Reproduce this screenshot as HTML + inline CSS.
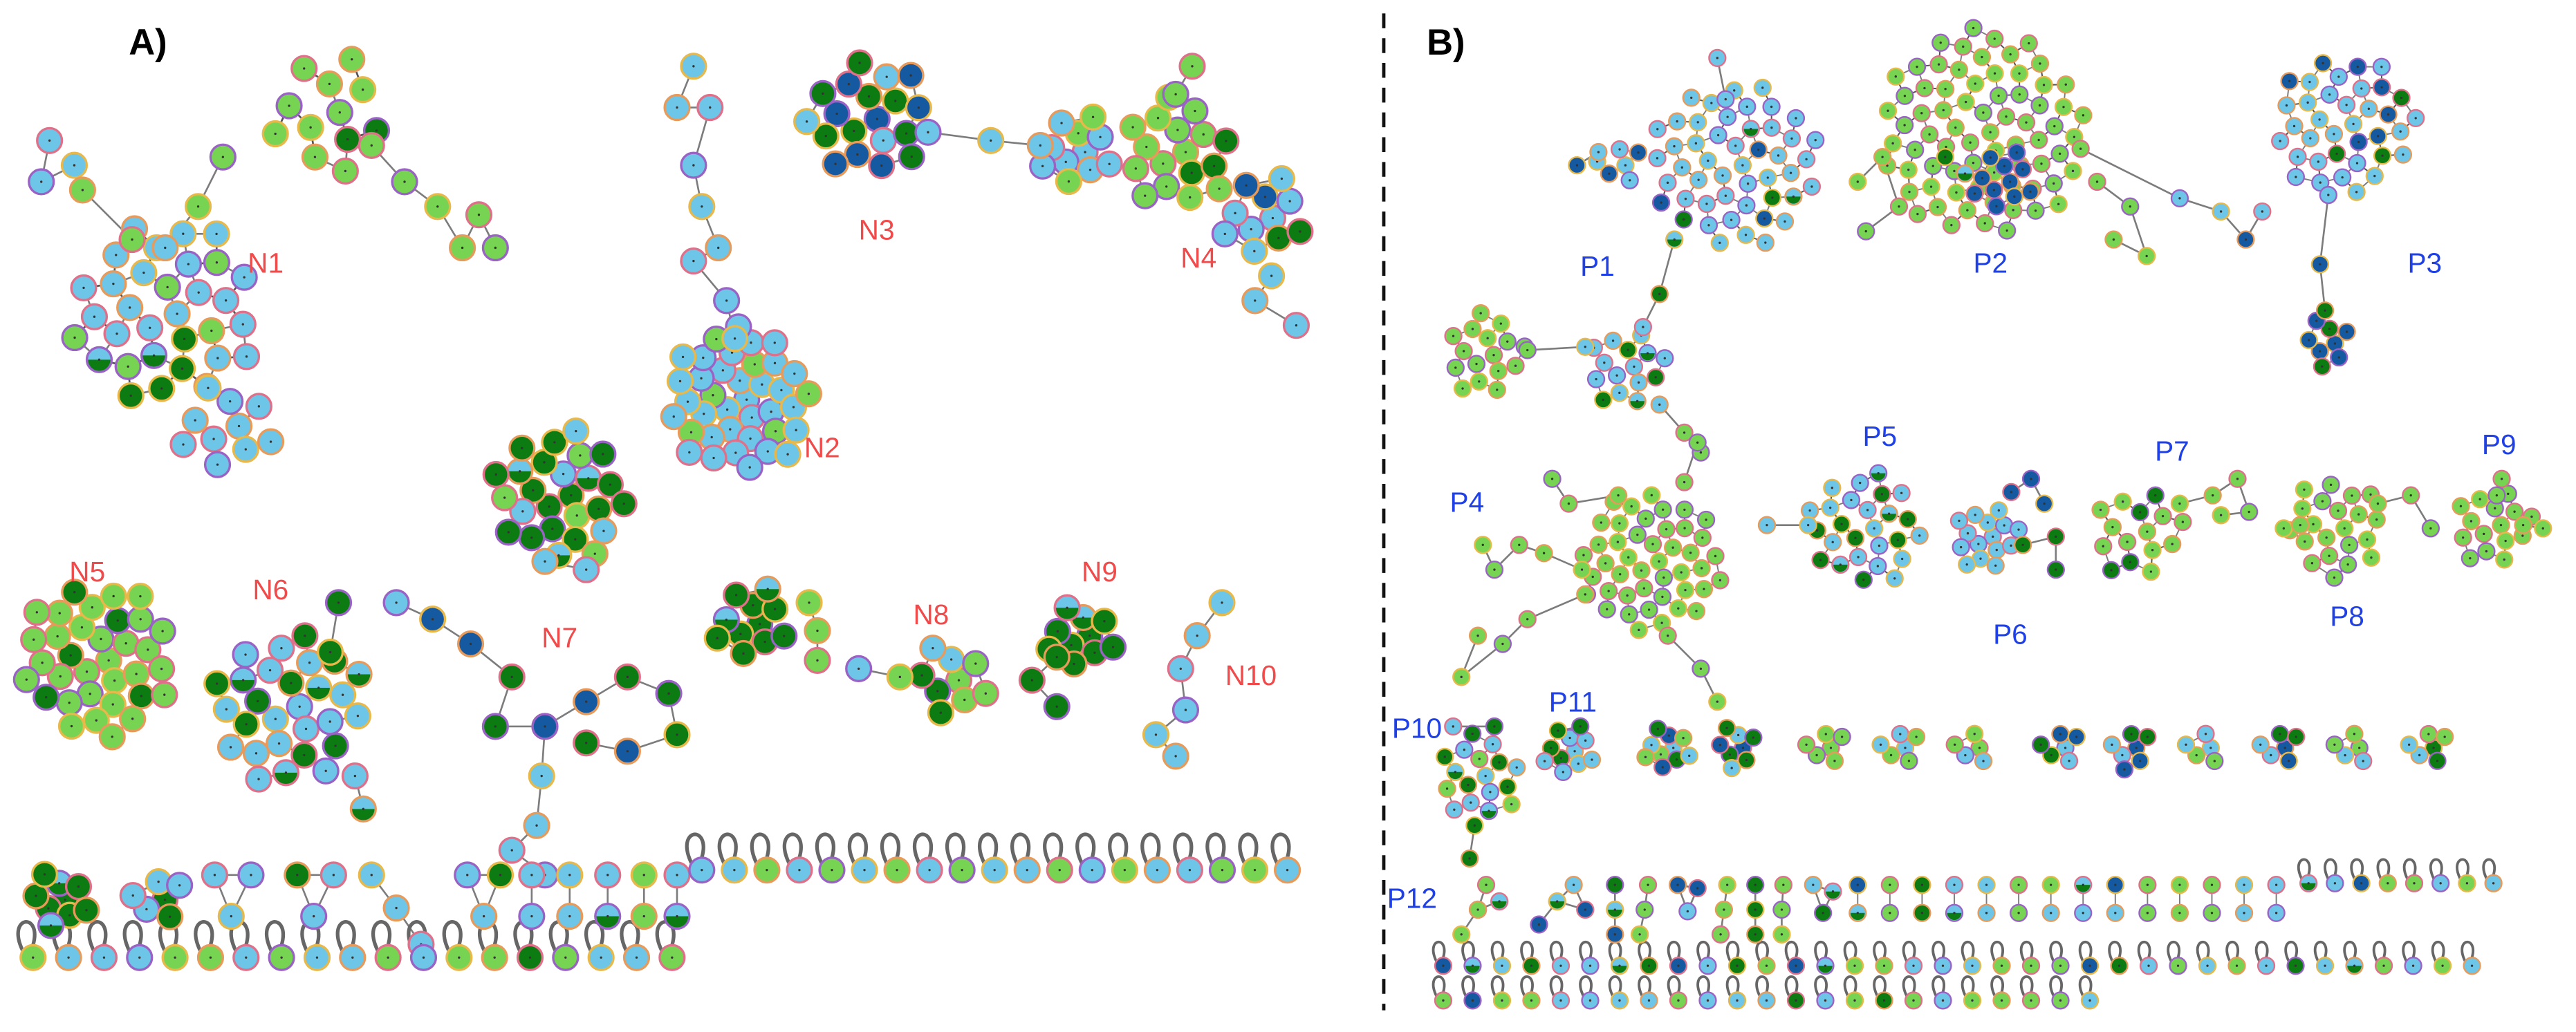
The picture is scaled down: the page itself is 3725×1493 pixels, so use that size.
<!DOCTYPE html>
<html><head><meta charset="utf-8"><style>
html,body{margin:0;padding:0;background:#fff}
svg{display:block}
text{font-family:"Liberation Sans",Arial,sans-serif}
</style></head><body>
<svg id="fig" width="3725" height="1493" viewBox="0 0 1560 625" xmlns="http://www.w3.org/2000/svg">
<g id="edges"></g>
<g id="nodes"></g>
<line x1="838" y1="8" x2="838" y2="612" stroke="#111" stroke-width="2" stroke-dasharray="9,6"/>
<g>
<text x="78" y="33" font-size="22" font-weight="bold" fill="#000">A)</text>
<text x="864" y="33" font-size="22" font-weight="bold" fill="#000">B)</text>
<g fill="#f04a4a" font-size="17">
<text x="150" y="165">N1</text>
<text x="487" y="277">N2</text>
<text x="520" y="145">N3</text>
<text x="715" y="162">N4</text>
<text x="42" y="352">N5</text>
<text x="153" y="363">N6</text>
<text x="328" y="392">N7</text>
<text x="553" y="378">N8</text>
<text x="655" y="352">N9</text>
<text x="742" y="415">N10</text>
</g>
<g fill="#1e40e6" font-size="17">
<text x="957" y="167">P1</text>
<text x="1195" y="165">P2</text>
<text x="1458" y="165">P3</text>
<text x="878" y="310">P4</text>
<text x="1128" y="270">P5</text>
<text x="1207" y="390">P6</text>
<text x="1305" y="279">P7</text>
<text x="1411" y="379">P8</text>
<text x="1503" y="275">P9</text>
<text x="843" y="447">P10</text>
<text x="938" y="431">P11</text>
<text x="840" y="550">P12</text>
</g>
</g>
</svg>
<script>
// cluster: [name, cx, cy, spread, count, palette, nodeRadius, neighbours]
const clusters = [
["n1-main",100,190,58,32,"bbgGbbhbgbbGbbgb",7.5,3],
["n1-bottom",138,258,30,10,"b",7.5,2],
["n1-top",198,68,38,12,"gggGg",7.5,2],
["n2-blue",447,242,45,38,"bbbbgb",7.5,3],
["n2-green",340,300,42,26,"GGbgGhG",7.5,3],
["n3-a",525,72,38,19,"dGGbdGd",7.5,3],
["n3-b",652,92,24,11,"bbgb",7.5,3],
["n4-green",712,92,35,17,"gggGg",7.5,3],
["n4-blue",765,132,27,11,"bbdGb",7.5,3],
["n5",60,400,48,34,"ggggGg",7.5,3],
["n6",175,428,48,28,"bbGbGhb",7.5,3],
["n8-a",455,378,24,11,"GGGGhG",7.5,3],
["n8-b",575,412,24,9,"gGbgG",7.5,3],
["n9",655,385,22,10,"GGhGG",7.5,3],
["bottom-a",35,545,19,9,"GGhG",7.5,3],
["bottom-b",95,545,17,6,"Gbb",7.5,3],
["p1",1050,100,52,48,"bbbbbdbbbbhbbbbbGbb",5,3],
["p1-left",980,100,15,6,"bdbb",5,2],
["p1-green",900,215,26,16,"g",5,3],
["p1-blue",985,222,25,15,"bbGbbh",5,3],
["p2",1200,80,64,72,"g",5,3],
["p2-dark",1213,110,20,11,"dddd",5,3],
["p3",1420,75,44,36,"bbbdbbGbdb",5,3],
["p3-dark",1410,208,16,8,"ddGd",5,3],
["p4",1000,340,44,44,"g",5,3],
["p5",1130,320,36,26,"bGbbGhbbG",5,3],
["p6",1203,325,21,15,"b",5,3],
["p7",1295,322,29,15,"ggGg",5,3],
["p8",1415,320,31,21,"g",5,3],
["p9",1510,318,25,15,"g",5,3],
["p10",895,470,27,17,"bGgbhGb",5,3],
["p11",950,455,17,11,"bGb",5,3],
["s1",1010,453,15,10,"bgdG",5,3],
["s2",1052,453,14,8,"dGbG",5,3],
["s3",1105,453,13,6,"g",5,2],
["s4",1150,453,13,6,"bg",5,2],
["s5",1195,453,12,5,"gb",5,2],
["s6",1247,453,13,6,"bGd",5,2],
["s7",1290,453,14,7,"dbG",5,2],
["s8",1335,453,12,5,"bg",5,2],
["s9",1380,453,13,6,"dbG",5,2],
["s10",1425,453,12,5,"gb",5,2],
["s11",1470,453,13,6,"Gbg",5,2]
];
// chains: [nodeRadius, [x,y,colour]...]
const chains = [
[7.5,[30,85,'b'],[25,110,'b'],[45,100,'b'],[50,115,'g'],[80,145,'g']],
[7.5,[135,95,'g'],[120,125,'g'],[100,150,'b']],
[7.5,[225,88,'g'],[245,110,'g'],[265,125,'g'],[280,150,'g'],[290,130,'g'],[300,150,'g']],
[7.5,[420,40,'b'],[410,65,'b'],[430,65,'b'],[420,100,'b'],[425,125,'b'],[435,150,'b'],[420,158,'b'],[440,182,'b'],[445,205,'b']],
[7.5,[330,340,'b'],[355,345,'b']],
[7.5,[562,80,'b'],[600,85,'b'],[630,88,'b']],
[7.5,[722,40,'g'],[712,57,'g']],
[7.5,[770,167,'b'],[760,182,'b'],[785,197,'b']],
[7.5,[205,365,'G'],[200,395,'G']],
[7.5,[220,490,'h'],[215,470,'b']],
[7.5,[240,365,'b'],[262,375,'d'],[285,390,'d'],[310,410,'G'],[300,440,'G'],[330,440,'d'],[355,425,'d'],[380,410,'G'],[405,420,'G'],[410,445,'G'],[380,455,'d'],[355,450,'G']],
[7.5,[330,440,'d'],[328,470,'b'],[325,500,'b'],[310,515,'b'],[330,530,'b']],
[7.5,[490,365,'g'],[495,382,'g'],[495,400,'g']],
[7.5,[520,405,'b'],[545,410,'g']],
[7.5,[640,398,'G'],[625,412,'G'],[640,428,'G']],
[7.5,[740,365,'b'],[725,385,'b'],[715,405,'b'],[718,430,'b'],[700,445,'b'],[712,458,'b']],
[7.5,[130,530,'b'],[152,530,'b'],[140,555,'b'],[130,530,'b']],
[7.5,[180,530,'G'],[202,530,'b'],[190,555,'b'],[180,530,'G']],
[7.5,[225,530,'b'],[240,550,'b'],[255,572,'b']],
[7.5,[283,530,'b'],[303,530,'G'],[293,555,'b'],[283,530,'b']],
[7.5,[322,530,'b'],[322,555,'b']],[7.5,[345,530,'b'],[345,555,'b']],
[7.5,[368,530,'b'],[368,555,'h']],[7.5,[390,530,'g'],[390,555,'g']],
[7.5,[410,530,'b'],[410,555,'h']],
[5,[955,100,'d'],[968,92,'b']],
[5,[1040,35,'b'],[1045,60,'b']],
[5,[1014,145,'h'],[1005,178,'G'],[995,198,'b']],
[5,[925,212,'g'],[960,210,'b']],
[5,[1005,245,'b'],[1020,262,'g'],[1030,274,'g']],
[5,[1125,110,'g'],[1140,95,'g'],[1150,125,'g'],[1130,140,'g']],
[5,[1178,95,'G'],[1190,105,'h']],
[5,[1270,110,'g'],[1290,125,'g'],[1300,155,'g'],[1280,145,'g']],
[5,[1260,90,'g'],[1320,120,'b'],[1345,128,'b'],[1360,145,'d'],[1370,128,'b']],
[5,[1410,118,'b'],[1405,160,'d'],[1408,188,'G']],
[5,[1020,292,'g'],[1028,268,'g']],
[5,[958,345,'g'],[935,335,'g'],[920,330,'g'],[905,345,'g'],[898,330,'g']],
[5,[960,360,'g'],[925,375,'g'],[910,390,'g'],[885,410,'g'],[895,385,'g']],
[5,[1010,385,'g'],[1030,405,'g'],[1040,425,'g']],
[5,[980,300,'g'],[950,305,'g'],[940,290,'g']],
[5,[1095,318,'b'],[1070,318,'b']],
[5,[1218,298,'d'],[1230,290,'d'],[1238,305,'d']],
[5,[1225,330,'G'],[1245,325,'G'],[1245,345,'G']],
[5,[1320,305,'g'],[1340,300,'g'],[1355,290,'g'],[1362,310,'g'],[1345,312,'g']],
[5,[1440,305,'g'],[1460,300,'g'],[1472,320,'g']],
[5,[1383,320,'g'],[1393,318,'g']],
[5,[1515,290,'g'],[1512,300,'g']],[5,[1540,320,'g'],[1528,318,'g']],
[5,[880,440,'b'],[905,440,'G']],
[5,[893,500,'G'],[890,520,'G']],
[5,[900,536,'g'],[895,551,'g'],[885,566,'g']],[5,[895,551,'g'],[908,546,'h']],
[5,[932,560,'d'],[943,546,'h'],[953,536,'b'],[960,551,'d'],[943,546,'h']],
[5,[978,536,'G'],[978,551,'h'],[978,566,'d']],
[5,[998,536,'g'],[996,551,'g'],[993,566,'g']],
[5,[1016,536,'d'],[1028,538,'d'],[1022,552,'b'],[1016,536,'d']],
[5,[1046,536,'g'],[1044,551,'g'],[1042,566,'g']],
[5,[1063,536,'G'],[1063,551,'G'],[1063,566,'G']],
[5,[1080,536,'g'],[1079,551,'g'],[1079,566,'g']],
[5,[1098,536,'b'],[1110,540,'h'],[1104,553,'G'],[1098,536,'b']]
];
// pair column palettes (top,bottom) for P12 row
const pairTop = "dgGbbgghdgggbb";
const pairBottom = "hgGhbgbbbgggbb";
// self-loop rows: [x0, y, dx, palette, nodeRadius]
const loopRows = [
[20,580,21.5,"gbbbggbgbbgbggGgbbg",7.5],
[425,527,19.7,"bbgbgbgbgbbgbgbbggb",7.5],
[1398,535,16,"hbdggbgb",5],
[874,585,17.8,"dhbGbbhGdbGgdhggbbbgggdGbgbgbGbhgbgb",5],
[874,606,17.8,"gdggbbbbgbbbGbgGgbggggb",5]
];
const PAL={b:"#6dc6e8",g:"#77d452",G:"#0c7c12",d:"#155aa0",h:"#6dc6e8"};
const RING=["#e89a5a","#e0708a","#9a62c4","#e8b84a"];
const NS="http://www.w3.org/2000/svg";
const E=document.getElementById('edges'), N=document.getElementById('nodes');
function mk(t,a){const e=document.createElementNS(NS,t);for(const k in a)e.setAttribute(k,a[k]);return e;}
let idx=0;
function node(x,y,c,r){
  const g=mk('g',{});
  
  
  g.appendChild(mk('circle',{cx:x,cy:y,r:r,fill:PAL[c],stroke:RING[idx%4],'stroke-width':r>6?1.4:1}));
  if(c==='h'){g.appendChild(mk('path',{d:`M${x-r+0.7},${y} A${r-0.7},${r-0.7} 0 0 0 ${x+r-0.7},${y} Z`,fill:PAL.G}));}
  g.appendChild(mk('circle',{cx:x,cy:y,r:0.7,fill:'#333'}));
  idx++;N.appendChild(g);
}
function edge(a,b,w){
  const l=mk('line',{x1:a[0],y1:a[1],x2:b[0],y2:b[1],stroke:'#444','stroke-width':w||0.9,'stroke-opacity':0.7});
  
  
  E.appendChild(l);
}
function loop(x,y,r){
  const p=mk('path',{d:`M${x-r*0.7},${y-r*0.3} C${x-r*2.4},${y-r*3.4} ${x+r*0.8},${y-r*3.8} ${x},${y-r}`,fill:'none',stroke:'#666','stroke-width':r>6?2.2:1.6});
  
  
  E.appendChild(p);
}
clusters.forEach(cl=>{
  const [name,cx,cy,R,n,pal,r,k]=cl;const pts=[];
  for(let i=0;i<n;i++){const rr=R*Math.sqrt((i+0.5)/n),a=i*2.39996;pts.push([cx+rr*Math.cos(a),cy+rr*Math.sin(a)]);}
  const w=r>6?1.1:0.8;
  pts.forEach((p,i)=>{const d=pts.map((q,j)=>[Math.hypot(q[0]-p[0],q[1]-p[1]),j]).filter(v=>v[1]!==i).sort((a,b)=>a[0]-b[0]);
    for(let m=0;m<Math.min(k,d.length);m++)if(d[m][1]>i||m===0)edge(p,pts[d[m][1]],w);});
  pts.forEach((p,i)=>node(p[0],p[1],pal[i%pal.length],r));
});
chains.forEach(ch=>{
  const r=ch[0],pts=ch.slice(1);
  for(let i=1;i<pts.length;i++)edge(pts[i-1],pts[i],1.1);
  const seen={};pts.forEach(p=>{const key=p[0]+','+p[1];if(!seen[key]){seen[key]=1;node(p[0],p[1],p[2],r);}});
});
for(let i=0;i<pairTop.length;i++){
  const x=1125+i*19.5;
  edge([x,536],[x,553],0.8);
  node(x,536,pairTop[i],5);node(x,553,pairBottom[i],5);
}
loopRows.forEach(row=>{
  const [x0,y,dx,pal,r]=row;
  for(let i=0;i<pal.length;i++){const x=x0+i*dx;loop(x,y,r);node(x,y,pal[i],r);}
});
</script>
</body></html>
